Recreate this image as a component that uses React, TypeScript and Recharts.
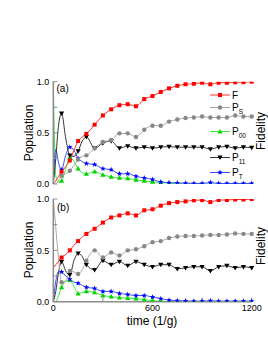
import React from "react";
import { LineChart, Line, XAxis, YAxis } from "recharts";

// time grid (1/g); markers only every 50
const times = [0, 15, 30, 50, 75, 100, 125, 150, 175, 200, 250, 300, 350, 400, 450, 500, 550, 600, 650, 700, 750, 800, 850, 900, 950, 1000, 1050, 1100, 1150, 1200];

// panel (a)
const fidelityA = [0, 0.03, 0.07, 0.12, 0.17, 0.23, 0.33, 0.42, 0.46, 0.49, 0.58, 0.67, 0.73, 0.77, 0.78, 0.76, 0.83, 0.86, 0.9, 0.935, 0.96, 0.975, 0.98, 0.99, 0.975, 0.99, 0.99, 0.995, 0.995, 1.0];
const psA = [0, 0, 0.03, 0.08, 0.1, 0.13, 0.18, 0.24, 0.27, 0.28, 0.35, 0.41, 0.43, 0.495, 0.495, 0.46, 0.53, 0.57, 0.57, 0.61, 0.63, 0.645, 0.65, 0.66, 0.65, 0.65, 0.65, 0.67, 0.66, 0.66];
const p00A = [1.0, 0.08, 0.02, 0.03, 0.15, 0.26, 0.22, 0.15, 0.11, 0.1, 0.12, 0.09, 0.07, 0.06, 0.055, 0.04, 0.03, 0.02, 0.015, 0.01, 0.005, 0, 0, 0, 0, 0, 0, 0, 0, 0];
const p11A = [0, 0.25, 0.55, 0.69, 0.45, 0.28, 0.27, 0.32, 0.42, 0.46, 0.35, 0.4, 0.42, 0.35, 0.37, 0.35, 0.36, 0.35, 0.36, 0.365, 0.36, 0.36, 0.36, 0.36, 0.34, 0.36, 0.365, 0.35, 0.36, 0.355];
const ptA = [0, 0.34, 0.22, 0.14, 0.28, 0.36, 0.33, 0.25, 0.22, 0.2, 0.19, 0.15, 0.14, 0.1, 0.1, 0.075, 0.06, 0.045, 0.02, 0.012, 0.01, 0.008, 0.005, 0.005, 0.015, 0.005, 0.005, 0.005, 0.005, 0.005];

// panel (b)
const fidelityB = [0.33, 0.36, 0.39, 0.43, 0.46, 0.5, 0.55, 0.59, 0.63, 0.66, 0.71, 0.77, 0.82, 0.84, 0.86, 0.84, 0.89, 0.9, 0.935, 0.96, 0.97, 0.977, 0.987, 0.99, 0.97, 0.99, 0.99, 0.995, 0.995, 1.0];
const psB = [1.0, 0.72, 0.45, 0.19, 0.2, 0.3, 0.29, 0.27, 0.31, 0.4, 0.5, 0.43, 0.48, 0.45, 0.5, 0.51, 0.54, 0.58, 0.59, 0.62, 0.635, 0.64, 0.64, 0.645, 0.65, 0.65, 0.655, 0.665, 0.66, 0.66];
const p00B = [0, 0, 0.05, 0.14, 0.2, 0.21, 0.15, 0.08, 0.09, 0.1, 0.09, 0.06, 0.05, 0.04, 0.035, 0.03, 0.02, 0.01, 0.005, 0, 0, 0, 0, 0, 0, 0, 0, 0, 0, 0];
const p11B = [0, 0.1, 0.27, 0.39, 0.3, 0.26, 0.4, 0.47, 0.44, 0.36, 0.31, 0.4, 0.36, 0.39, 0.35, 0.39, 0.36, 0.34, 0.36, 0.36, 0.32, 0.33, 0.34, 0.34, 0.3, 0.34, 0.35, 0.33, 0.34, 0.33];
const ptB = [0, 0.2, 0.29, 0.29, 0.25, 0.22, 0.19, 0.18, 0.16, 0.14, 0.13, 0.1, 0.1, 0.08, 0.07, 0.06, 0.06, 0.045, 0.03, 0.015, 0.01, 0.008, 0.005, 0.005, 0.01, 0.005, 0.005, 0.005, 0.005, 0.005];

const xTicks = [0, 300, 600, 900, 1200];
const xLabels = [0, 600, 1200];
const yTicks = [0, 0.25, 0.5, 0.75, 1];
const yLabels = [0, 0.5, 1];

const rowsA = times.map((t, i) => ({ t, F: fidelityA[i], PS: psA[i], P00: p00A[i], P11: p11A[i], PT: ptA[i] }));
const rowsB = times.map((t, i) => ({ t, F: fidelityB[i], PS: psB[i], P00: p00B[i], P11: p11B[i], PT: ptB[i] }));

const series = [
  { key: "P00", line: "#3ee83e", mark: "#00d400", shape: "tri" },
  { key: "PT", line: "#3a50ff", mark: "#0000ff", shape: "star" },
  { key: "P11", line: "#333333", mark: "#000000", shape: "down" },
  { key: "PS", line: "#a8a8a8", mark: "#888888", shape: "circle" },
  { key: "F", line: "#ff3030", mark: "#ff0000", shape: "square" },
];

const starPoints = (cx: number, cy: number, R: number, r: number) => {
  const pts: string[] = [];
  for (let i = 0; i < 10; i++) {
    const rad = i % 2 === 0 ? R : r;
    const a = -Math.PI / 2 + (i * Math.PI) / 5;
    pts.push(`${cx + rad * Math.cos(a)},${cy + rad * Math.sin(a)}`);
  }
  return pts.join(" ");
};

const drawMark = (shape: string, color: string, cx: number, cy: number, key?: any) => {
  if (shape === "square") return <rect key={key} x={cx - 2} y={cy - 2} width={4} height={4} fill={color} />;
  if (shape === "circle") return <circle key={key} cx={cx} cy={cy} r={2.2} fill={color} />;
  if (shape === "tri") return <polygon key={key} points={`${cx},${cy - 2.6} ${cx - 2.6},${cy + 1.9} ${cx + 2.6},${cy + 1.9}`} fill={color} />;
  if (shape === "down") return <polygon key={key} points={`${cx},${cy + 2.6} ${cx - 2.6},${cy - 1.9} ${cx + 2.6},${cy - 1.9}`} fill={color} />;
  return <polygon key={key} points={starPoints(cx, cy, 2.9, 1.2)} fill={color} />;
};

const makeDot = (shape: string, color: string) => (props: any) => {
  const { cx, cy, payload, index } = props;
  if (cx == null || cy == null || !payload || payload.t === 0 || payload.t % 50 !== 0) {
    return <g key={`d${index}`} />;
  }
  return drawMark(shape, color, cx, cy, `d${index}`);
};

const axisStyle = { stroke: "#8c8c8c", strokeWidth: 1.5 };
const tickStyle = { stroke: "#8c8c8c" };

function Panel({ rows, height, margin, xHeight, showX }: any) {
  return (
    <LineChart width={268} height={height} data={rows} margin={margin}>
      <XAxis
        xAxisId="b"
        dataKey="t"
        type="number"
        domain={[0, 1200]}
        ticks={xTicks}
        interval={0}
        height={xHeight}
        tickSize={-4}
        tickMargin={7.3}
        axisLine={axisStyle}
        tickLine={tickStyle}
        tick={{ fontSize: 9, fill: "#000", fontFamily: "Arial, 'Liberation Sans', sans-serif" }}
        tickFormatter={(v: number) => (showX && xLabels.includes(v) ? String(v) : "")}
      />
      <XAxis
        xAxisId="top"
        orientation="top"
        dataKey="t"
        type="number"
        domain={[0, 1200]}
        ticks={xTicks}
        interval={0}
        height={0}
        tickSize={-4}
        axisLine={axisStyle}
        tickLine={tickStyle}
        tickFormatter={() => ""}
      />
      <YAxis
        yAxisId="l"
        type="number"
        domain={[0, 1]}
        ticks={yTicks}
        interval={0}
        width={53.3}
        tickSize={-4}
        tickMargin={8}
        axisLine={axisStyle}
        tickLine={tickStyle}
        allowDataOverflow
        tick={{ fontSize: 9, fill: "#000", fontFamily: "Arial, 'Liberation Sans', sans-serif" }}
        tickFormatter={(v: number) => (yLabels.includes(v) ? v.toFixed(1) : "")}
      />
      <YAxis
        yAxisId="r"
        orientation="right"
        type="number"
        domain={[0, 1]}
        ticks={yTicks}
        interval={0}
        width={0}
        tickSize={-4}
        axisLine={axisStyle}
        tickLine={tickStyle}
        tickFormatter={() => ""}
      />
      {series.map((s) => (
        <Line
          key={s.key}
          xAxisId="b"
          yAxisId="l"
          dataKey={s.key}
          type="monotone"
          stroke={s.line}
          strokeWidth={1}
          dot={makeDot(s.shape, s.mark)}
          activeDot={false}
          isAnimationActive={false}
        />
      ))}
    </LineChart>
  );
}

const legendRows = [
  { name: "F", sub: "", y: 95, s: series[4] },
  { name: "P", sub: "S", y: 107.5, s: series[3] },
  { name: "P", sub: "00", y: 131.5, s: series[0] },
  { name: "P", sub: "11", y: 157.5, s: series[2] },
  { name: "P", sub: "T", y: 172.5, s: series[1] },
];

export default function App() {
  const font = "Arial, 'Liberation Sans', sans-serif";
  return (
    <div style={{ position: "absolute", left: 0, top: 0, width: 268, height: 346, background: "#fff", fontFamily: font }}>
      <div style={{ position: "absolute", left: 0, top: 0 }}>
        <Panel rows={rowsA} height={190} margin={{ top: 81.7, right: 16.3, bottom: 6, left: 0 }} xHeight={0} showX={false} />
      </div>
      <div style={{ position: "absolute", left: 0, top: 190 }}>
        <Panel rows={rowsB} height={156} margin={{ top: 9, right: 16.3, bottom: 24.3, left: 0 }} xHeight={20} showX />
      </div>
      <svg width={268} height={346} style={{ position: "absolute", left: 0, top: 0, pointerEvents: "none" }} fontFamily={font}>
        <text x={56.5} y={92} fontSize={10}>(a)</text>
        <text x={57} y={211} fontSize={10}>(b)</text>
        <text transform="translate(33,133) rotate(-90)" textAnchor="middle" fontSize={12}>Population</text>
        <text transform="translate(33,250) rotate(-90)" textAnchor="middle" fontSize={12}>Population</text>
        <text transform="translate(265,131) rotate(-90)" textAnchor="middle" fontSize={12}>Fidelity</text>
        <text transform="translate(265,246) rotate(-90)" textAnchor="middle" fontSize={12}>Fidelity</text>
        <text x={152} y={324.5} textAnchor="middle" fontSize={12}>time (1/g)</text>
        {legendRows.map((r) => (
          <g key={r.name + r.sub}>
            <line x1={210} x2={230} y1={r.y} y2={r.y} stroke={r.s.line} strokeWidth={1} />
            {drawMark(r.s.shape, r.s.mark, 220, r.y)}
            <text x={232} y={r.y + 3.5} fontSize={10}>
              {r.name}
              {r.sub && (
                <tspan fontSize={6.5} dy={2.5}>
                  {r.sub}
                </tspan>
              )}
            </text>
          </g>
        ))}
      </svg>
    </div>
  );
}
